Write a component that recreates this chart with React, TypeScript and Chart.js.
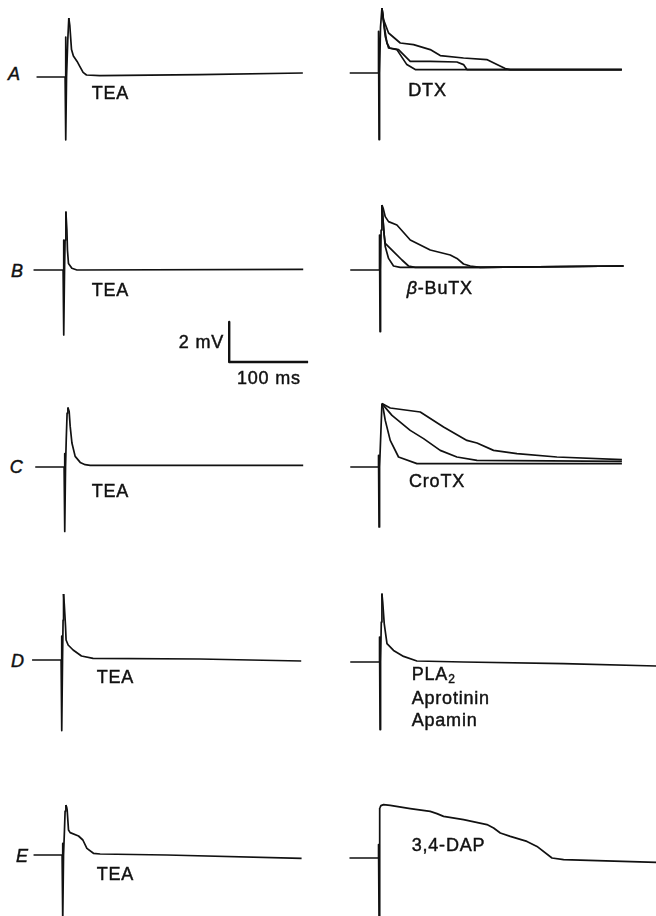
import React, { useEffect, useRef } from "react";
import { Chart, registerables } from "chart.js";
Chart.register(...registerables);

type Pt = [number, number];

// time in ms (0 = stimulus), voltage in mV (0 = resting baseline)
const PX_PER_MS = 0.79;
const PX_PER_MV = 20;

// ---- Row A ----
const A_TEA_LEAD: Pt[] = [[-36.7, 0], [-0.5, 0], [0, 2.0], [0.6, -3.14], [1.3, 0], [2.9, 1.87], [4.2, 2.95]];
const A_TEA: Pt[] = [[4.2, 2.95], [5.4, 2.6], [7.6, 1.37], [10, 1.05], [14.7, 0.78], [18.1, 0.53], [22.3, 0.23], [26.6, 0.1], [43.4, 0.065], [170, 0.12], [300.8, 0.2]];
const A_DTX_LEAD: Pt[] = [[-36.5, 0], [-0.5, 0], [0, 2.08], [0.6, -3.33], [1.3, 0], [2.5, 2.3], [4.3, 3.25]];
const A_DTX_1: Pt[] = [[4.3, 3.25], [6.3, 2.67], [12.7, 2.0], [27.5, 1.5], [44.3, 1.42], [65.4, 1.17], [78.1, 0.87], [107.6, 0.75], [137, 0.67], [149.9, 0.42], [160.4, 0.22], [166.7, 0.17], [308, 0.17]];
const A_DTX_2: Pt[] = [[4.3, 3.25], [7, 2.4], [10.6, 1.5], [14, 1.25], [25.3, 1.17], [40.1, 0.58], [65.4, 0.58], [99.2, 0.55], [107.6, 0.42], [111.9, 0.17], [166.7, 0.17], [308, 0.17]];
const A_DTX_3: Pt[] = [[4.3, 3.25], [8.5, 1.83], [12.7, 1.25], [23.2, 1.17], [35.8, 0.42], [46.5, 0.17], [166.7, 0.17], [308, 0.17]];

// ---- Row B ----
const B_TEA_LEAD: Pt[] = [[-38, 0], [-0.5, 0], [0, 1.5], [0.6, -3.25], [1.3, 0], [2, 1.5], [3, 2.92]];
const B_TEA: Pt[] = [[3, 2.92], [4.3, 2.0], [5, 1.0], [6.3, 0.33], [10.6, 0.085], [17, 0], [303.8, 0.035]];
const SCALE_BAR: Pt[] = [[210, -2.6], [210, -4.6], [310, -4.6]]; // 2 mV, 100 ms
const B_BUTX_LEAD: Pt[] = [[-37.1, 0], [-0.5, 0], [0, 1.75], [0.6, -3.08], [1.3, 0], [2, 2], [3, 3.25]];
const B_BUTX_1: Pt[] = [[3, 3.25], [4.5, 3.1], [7.2, 2.67], [11.4, 2.42], [22, 2.25], [38.9, 1.5], [64.2, 1.0], [89.5, 0.75], [98, 0.58], [106.3, 0.3], [114.8, 0.2], [127.5, 0.13], [308.9, 0.2]];
const B_BUTX_2: Pt[] = [[3, 3.25], [5.9, 1.75], [7.2, 1.33], [17.7, 0.92], [28.4, 0.5], [36.7, 0.2], [45.2, 0.13], [127.5, 0.13], [308.9, 0.2]];
const B_BUTX_3: Pt[] = [[3, 3.25], [5.3, 2.0], [7.2, 1.17], [11.4, 0.58], [17.7, 0.2], [26.2, 0.13], [127.5, 0.13], [308.9, 0.2]];

// ---- Row C ----
const C_TEA_LEAD: Pt[] = [[-37.1, 0], [-0.5, 0], [0, 0.67], [0.6, -3.22], [1.3, 0], [2.2, 1.37], [3.3, 2.7], [4.3, 2.98]];
const C_TEA: Pt[] = [[4.3, 2.98], [5.9, 2.77], [7.2, 2.03], [9.4, 1.2], [13.5, 0.53], [19.9, 0.23], [26.2, 0.115], [32.5, 0.08], [302.5, 0.08]];
const C_CRO_LEAD: Pt[] = [[-35.8, 0], [-0.5, 0], [0, 0.58], [0.6, -3.0], [1.3, 0], [4.3, 3.17]];
const C_CRO_1: Pt[] = [[4.3, 3.17], [14.8, 2.95], [52.8, 2.75], [82.3, 2.0], [111.9, 1.33], [124.6, 1.2], [145.6, 0.83], [175.2, 0.67], [225.8, 0.5], [308.1, 0.37]];
const C_CRO_2: Pt[] = [[4.3, 3.17], [17, 2.58], [40.1, 1.83], [57, 1.42], [78.1, 0.83], [99.2, 0.5], [124.6, 0.33], [308.1, 0.28]];
const C_CRO_3: Pt[] = [[4.3, 3.17], [6, 2.9], [8.5, 2.33], [14.8, 1.33], [25.3, 0.5], [48.6, 0.17], [141.4, 0.17], [308.1, 0.17]];

// ---- Row D ----
const D_TEA_LEAD: Pt[] = [[-37.3, 0], [-0.5, 0], [0, 1.2], [0.6, -3.53], [1.3, 0], [2.0, 2.0], [2.6, 3.3]];
const D_TEA: Pt[] = [[2.6, 3.3], [3.5, 2.8], [5.1, 1.67], [5.8, 1.0], [8.4, 0.75], [14.7, 0.5], [25.3, 0.2], [40, 0.085], [175, 0.05], [303.8, -0.05]];
const D_MIX_LEAD: Pt[] = [[-37.1, 0], [-0.5, 0], [0, 1.25], [0.6, -3.38], [1.3, 0], [2.2, 2.0], [3.0, 3.42]];
const D_MIX: Pt[] = [[3, 3.42], [4, 3.0], [5.9, 1.92], [9.4, 0.92], [17.7, 0.58], [30.4, 0.28], [47.3, 0.05], [106.3, 0], [232.9, -0.08], [350.3, -0.2]];

// ---- Row E ----
const E_TEA_LEAD: Pt[] = [[-36.7, 0], [-0.5, 0], [0, 0.58], [0.6, -3.3], [1.3, 0], [2.5, 1.25], [3.3, 2.2], [4.3, 2.5]];
const E_TEA: Pt[] = [[4.3, 2.5], [5.2, 2.4], [5.9, 2.25], [7.6, 1.25], [9.7, 1.12], [20.3, 0.95], [25.8, 0.75], [30.9, 0.33], [39.2, 0.085], [47.7, 0.05], [132.2, 0], [303, -0.165]];
const E_DAP_LEAD: Pt[] = [[-36.8, 0], [-0.5, 0], [0, 0.67], [0.6, -3.0], [1.3, 0], [1.6, 2.5]];
const E_DAP: Pt[] = [[1.6, 2.5], [3, 2.62], [6.3, 2.67], [14.8, 2.63], [40.1, 2.47], [65.4, 2.33], [73.9, 2.22], [82.3, 2.08], [107.6, 1.92], [137.2, 1.67], [145.6, 1.5], [154.1, 1.25], [166.7, 1.08], [187.8, 0.83], [200.5, 0.58], [219.5, 0], [234.2, -0.085], [351.5, -0.22]];

type Series = { data: Pt[]; width: number };
type Panel = { id: string; stimX: number; baseY: number; xMin: number; xMax: number; yMin: number; yMax: number; series: Series[] };

const W = 1.7;
const PANELS: Panel[] = [
  { id: "A1", stimX: 65.7, baseY: 77.3, xMin: -45, xMax: 320, yMin: -4, yMax: 3.8, series: [{ data: A_TEA_LEAD, width: W }, { data: A_TEA, width: W }] },
  { id: "A2", stimX: 378.3, baseY: 73.3, xMin: -45, xMax: 350, yMin: -4, yMax: 3.8, series: [{ data: A_DTX_LEAD, width: W }, { data: A_DTX_1, width: W }, { data: A_DTX_2, width: W }, { data: A_DTX_3, width: W }] },
  { id: "B1", stimX: 63.3, baseY: 270, xMin: -45, xMax: 320, yMin: -5, yMax: 3.8, series: [{ data: B_TEA_LEAD, width: W }, { data: B_TEA, width: W }, { data: SCALE_BAR, width: 2.4 }] },
  { id: "B2", stimX: 379.3, baseY: 270, xMin: -45, xMax: 350, yMin: -4, yMax: 3.8, series: [{ data: B_BUTX_LEAD, width: W }, { data: B_BUTX_1, width: W }, { data: B_BUTX_2, width: W }, { data: B_BUTX_3, width: W }] },
  { id: "C1", stimX: 64.3, baseY: 467.3, xMin: -45, xMax: 320, yMin: -4, yMax: 3.8, series: [{ data: C_TEA_LEAD, width: W }, { data: C_TEA, width: W }] },
  { id: "C2", stimX: 378.3, baseY: 466.7, xMin: -45, xMax: 350, yMin: -4, yMax: 3.8, series: [{ data: C_CRO_LEAD, width: W }, { data: C_CRO_1, width: W }, { data: C_CRO_2, width: W }, { data: C_CRO_3, width: W }] },
  { id: "D1", stimX: 61.7, baseY: 660, xMin: -45, xMax: 320, yMin: -4, yMax: 3.8, series: [{ data: D_TEA_LEAD, width: W }, { data: D_TEA, width: W }] },
  { id: "D2", stimX: 379.3, baseY: 661.7, xMin: -45, xMax: 360, yMin: -4, yMax: 3.8, series: [{ data: D_MIX_LEAD, width: W }, { data: D_MIX, width: W }] },
  { id: "E1", stimX: 62.3, baseY: 855, xMin: -45, xMax: 320, yMin: -4, yMax: 3.8, series: [{ data: E_TEA_LEAD, width: W }, { data: E_TEA, width: W }] },
  { id: "E2", stimX: 378.3, baseY: 858.3, xMin: -45, xMax: 360, yMin: -4, yMax: 3.8, series: [{ data: E_DAP_LEAD, width: W }, { data: E_DAP, width: W }] },
];

const INK = "#111";
const FONT = '"Liberation Sans", Arial, Helvetica, sans-serif';

function TraceChart({ p }: { p: Panel }) {
  const ref = useRef<HTMLCanvasElement | null>(null);
  const left = p.stimX + p.xMin * PX_PER_MS;
  const width = Math.round((p.xMax - p.xMin) * PX_PER_MS);
  const top = p.baseY - p.yMax * PX_PER_MV;
  const height = Math.round((p.yMax - p.yMin) * PX_PER_MV);
  useEffect(() => {
    if (!ref.current) return;
    const chart = new Chart(ref.current, {
      type: "line",
      data: {
        datasets: p.series.map((s) => ({
          data: s.data.map(([x, y]) => ({ x, y })),
          borderColor: INK,
          borderWidth: s.width,
          pointRadius: 0,
          tension: 0,
          fill: false,
          borderJoinStyle: "round" as const,
          borderCapStyle: "butt" as const,
        })),
      },
      options: {
        responsive: false,
        animation: false,
        events: [],
        layout: { padding: 0 },
        plugins: { legend: { display: false }, tooltip: { enabled: false } },
        scales: {
          x: { type: "linear", min: p.xMin, max: p.xMax, display: false },
          y: { type: "linear", min: p.yMin, max: p.yMax, display: false },
        },
      },
    });
    return () => chart.destroy();
  }, []);
  return (
    <canvas
      ref={ref}
      width={width}
      height={height}
      style={{ position: "absolute", left, top, width, height }}
    />
  );
}

type Lbl = { text: React.ReactNode; x: number; cy: number; italic?: boolean; align?: "left" | "right" | "center" };

const ROW_LETTERS: Lbl[] = [
  { text: "A", x: 14.5, cy: 74, italic: true, align: "center" },
  { text: "B", x: 17.5, cy: 271, italic: true, align: "center" },
  { text: "C", x: 16.7, cy: 466.7, italic: true, align: "center" },
  { text: "D", x: 17.8, cy: 661, italic: true, align: "center" },
  { text: "E", x: 22.3, cy: 856, italic: true, align: "center" },
];

const LABELS: Lbl[] = [
  { text: "TEA", x: 91.7, cy: 93.3 },
  { text: "DTX", x: 408.3, cy: 90 },
  { text: "TEA", x: 91.7, cy: 290.3 },
  { text: <><i>β</i>-BuTX</>, x: 406.7, cy: 288 },
  { text: "2 mV", x: 224, cy: 342, align: "right" },
  { text: "100 ms", x: 237, cy: 378 },
  { text: "TEA", x: 91.7, cy: 491 },
  { text: "CroTX", x: 409, cy: 481 },
  { text: "TEA", x: 96.7, cy: 676.7 },
  { text: <>PLA<sub style={{ fontSize: "12px", verticalAlign: "-3px" }}>2</sub></>, x: 411.7, cy: 674 },
  { text: "Aprotinin", x: 411.7, cy: 698.3 },
  { text: "Apamin", x: 411.7, cy: 720 },
  { text: "TEA", x: 96.7, cy: 874 },
  { text: "3,4-DAP", x: 411.7, cy: 845 },
];

function Label({ l }: { l: Lbl }) {
  const style: React.CSSProperties = {
    position: "absolute",
    top: l.cy - 9,
    fontFamily: FONT,
    fontSize: "18px",
    lineHeight: "18px",
    letterSpacing: "0.8px",
    fontStyle: l.italic ? "italic" : "normal",
    color: INK,
    whiteSpace: "nowrap",
    WebkitTextStroke: "0.45px " + INK,
  };
  if (l.align === "right") {
    style.right = 656 - l.x;
  } else if (l.align === "center") {
    style.left = l.x;
    style.transform = "translateX(-50%)";
  } else {
    style.left = l.x;
  }
  return <div style={style}>{l.text}</div>;
}

export default function App() {
  return (
    <div
      style={{
        position: "absolute",
        left: 0,
        top: 0,
        width: 656,
        height: 916,
        overflow: "hidden",
        background: "#fff",
      }}
    >
      {PANELS.map((p) => (
        <TraceChart key={p.id} p={p} />
      ))}
      {ROW_LETTERS.map((l, i) => (
        <Label key={"r" + i} l={l} />
      ))}
      {LABELS.map((l, i) => (
        <Label key={"l" + i} l={l} />
      ))}
    </div>
  );
}
